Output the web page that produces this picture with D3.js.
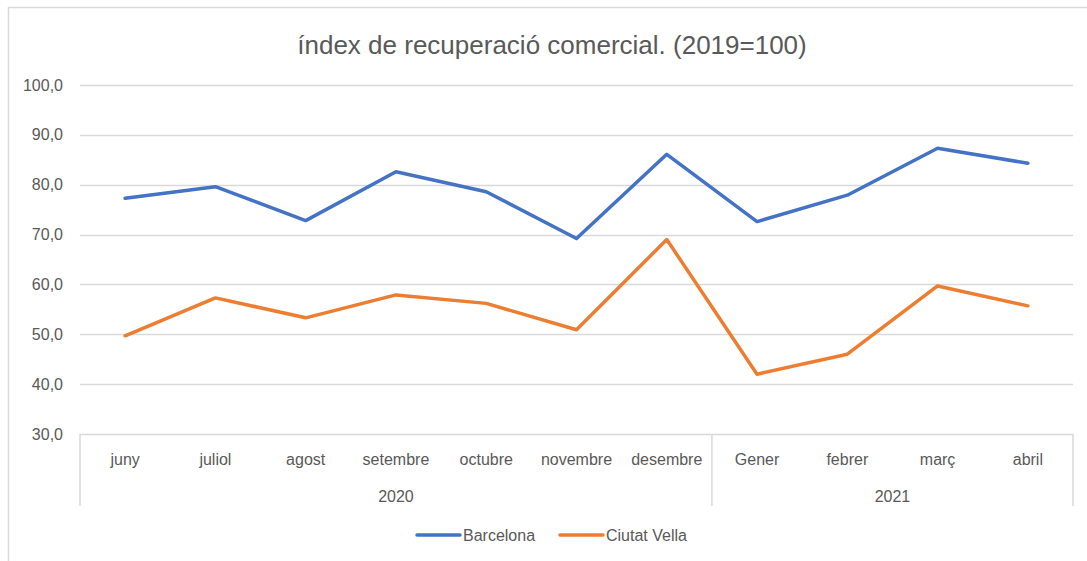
<!DOCTYPE html>
<html>
<head>
<meta charset="utf-8">
<script src="https://cdn.jsdelivr.net/npm/d3@7"></script>
<style>
  body { margin: 0; background: #fff; }
  svg { display: block; font-family: "Liberation Sans", Arial, sans-serif; }
  .tick-label { fill: #595959; font-size: 16px; }
</style>
</head>
<body>
<div id="chart"></div>
<script>
// Data
var months = ["juny", "juliol", "agost", "setembre", "octubre", "novembre", "desembre",
              "Gener", "febrer", "març", "abril"];
var years = ["2020", "2021"];
var monthsPerYear = [7, 4];
var barcelona   = [77.3, 79.6, 72.8, 82.6, 78.6, 69.2, 86.1, 72.6, 77.9, 87.3, 84.3];
var ciutatVella = [49.7, 57.3, 53.3, 57.9, 56.2, 50.9, 69.0, 42.0, 46.0, 59.7, 55.7];
var yTicks = [30, 40, 50, 60, 70, 80, 90, 100];
var seriesNames = ["Barcelona", "Ciutat Vella"];
var seriesColors = ["#4472C4", "#ED7D31"];

var width = 1087, height = 561;
var plot = { left: 80, right: 1073, top: 85, bottom: 434 };

var svg = d3.select("#chart").append("svg")
    .attr("width", width)
    .attr("height", height);

// outer frame (only top and left edges show)
svg.append("line")
    .attr("x1", 8).attr("x2", width).attr("y1", 7.5).attr("y2", 7.5)
    .attr("stroke", "#d9d9d9").attr("stroke-width", 1.5);
svg.append("line")
    .attr("x1", 8.5).attr("x2", 8.5).attr("y1", 7).attr("y2", height)
    .attr("stroke", "#d9d9d9").attr("stroke-width", 1.5);

// Title
svg.append("text")
    .attr("x", 552)
    .attr("y", 54)
    .attr("text-anchor", "middle")
    .attr("fill", "#595959")
    .style("font-size", "26px")
    .text("índex de recuperació comercial. (2019=100)");

// Scales
var x = d3.scaleBand()
    .domain(months)
    .range([plot.left, plot.right])
    .padding(0);

var y = d3.scaleLinear()
    .domain([30, 100])
    .range([plot.bottom, plot.top]);

function cx(d) { return x(d) + x.bandwidth() / 2; }

// Gridlines
svg.append("g")
    .selectAll("line")
    .data(yTicks.filter(function(t) { return t > 30; }))
    .enter().append("line")
    .attr("x1", plot.left).attr("x2", plot.right)
    .attr("y1", function(d) { return Math.round(y(d)) + 0.5; })
    .attr("y2", function(d) { return Math.round(y(d)) + 0.5; })
    .attr("stroke", "#d9d9d9")
    .attr("stroke-width", 1.5);

// Y labels
svg.append("g")
    .selectAll("text")
    .data(yTicks)
    .enter().append("text")
    .attr("class", "tick-label")
    .attr("x", 63)
    .attr("y", function(d) { return y(d); })
    .attr("dy", "0.35em")
    .attr("text-anchor", "end")
    .text(function(d) { return d.toFixed(1).replace(".", ","); });

// X axis box (category + year levels)
var axisG = svg.append("g").attr("stroke", "#d9d9d9").attr("stroke-width", 1.5);
axisG.append("line")
    .attr("x1", plot.left).attr("x2", plot.right)
    .attr("y1", plot.bottom + 0.5).attr("y2", plot.bottom + 0.5);

var boundaries = [0];
monthsPerYear.forEach(function(n, i) { boundaries.push(boundaries[i] + n); });

axisG.selectAll(".sep")
    .data(boundaries)
    .enter().append("line")
    .attr("class", "sep")
    .attr("x1", function(i) { return i < months.length ? x(months[i]) : plot.right; })
    .attr("x2", function(i) { return i < months.length ? x(months[i]) : plot.right; })
    .attr("y1", plot.bottom)
    .attr("y2", 506);

svg.append("g")
    .selectAll("text")
    .data(months)
    .enter().append("text")
    .attr("class", "tick-label")
    .attr("x", cx)
    .attr("y", 465)
    .attr("text-anchor", "middle")
    .text(function(d) { return d; });

svg.append("g")
    .selectAll("text")
    .data(years)
    .enter().append("text")
    .attr("class", "tick-label")
    .attr("x", function(d, i) {
        var a = x(months[boundaries[i]]);
        var b = boundaries[i + 1] < months.length ? x(months[boundaries[i + 1]]) : plot.right;
        return (a + b) / 2;
    })
    .attr("y", 502)
    .attr("text-anchor", "middle")
    .text(function(d) { return d; });

// Lines
var line = d3.line()
    .x(function(d, i) { return cx(months[i]); })
    .y(function(d) { return y(d); });

[barcelona, ciutatVella].forEach(function(series, k) {
    svg.append("path")
        .datum(series)
        .attr("fill", "none")
        .attr("stroke", seriesColors[k])
        .attr("stroke-width", 3.5)
        .attr("stroke-linejoin", "round")
        .attr("stroke-linecap", "round")
        .attr("d", line);
});

// Legend
var legendX = [417, 560];
var legend = svg.append("g")
    .selectAll("g")
    .data(seriesNames)
    .enter().append("g")
    .attr("transform", function(d, i) { return "translate(" + legendX[i] + ",535)"; });

legend.append("line")
    .attr("x1", 0).attr("x2", 43)
    .attr("stroke", function(d, i) { return seriesColors[i]; })
    .attr("stroke-width", 3.5)
    .attr("stroke-linecap", "round");

legend.append("text")
    .attr("class", "tick-label")
    .attr("x", 46)
    .attr("dy", "0.35em")
    .text(function(d) { return d; });
</script>
</body>
</html>
